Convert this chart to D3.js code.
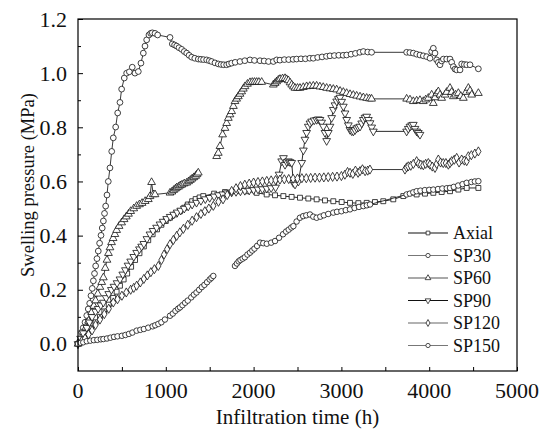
<!DOCTYPE html>
<html>
<head>
<meta charset="utf-8">
<script src="https://d3js.org/d3.v7.min.js"></script>
<style>
  body { margin: 0; background: #fff; }
  svg text { font-family: "Liberation Serif", "Times New Roman", Times, "DejaVu Serif", serif; }
</style>
</head>
<body>
<div class="canvas"></div>
<script>
const width = 539, height = 432
const serif = '"Liberation Serif", "Times New Roman", Times, "DejaVu Serif", serif'

// data: [infiltration time (h), swelling pressure (MPa)], null = break in the record
const axial = [[0,0],[50,0.02],[100,0.04],[150,0.06],[200,0.08],[250,0.1],[300,0.12],[350,0.145],[400,0.17],[440,0.193],[478,0.215],[520,0.238],[560,0.26],[605,0.285],[650,0.31],[700,0.335],[750,0.36],[800,0.383],[850,0.405],[900,0.423],[950,0.44],[1000,0.454],[1048,0.466],[1105,0.478],[1162,0.49],[1210,0.503],[1250,0.515],[1300,0.527],[1340,0.535],[1385,0.541],[1427,0.546],[1550,0.555],[1674,0.561],[1800,0.564],[1921,0.564],[2035,0.558],[2149,0.552],[2244,0.549],[2339,0.546],[2433,0.543],[2528,0.54],[2623,0.537],[2718,0.534],[2813,0.53],[2908,0.527],[3003,0.524],[3098,0.521],[3193,0.52],[3288,0.521],[3382,0.524],[3477,0.527],[3591,0.534],[3705,0.546],[3857,0.552],[3952,0.555],[4047,0.558],[4142,0.561],[4237,0.564],[4332,0.57],[4427,0.576],[4560,0.576]]

const sp30 = [[0,0],[20,0.01],[42,0.043],[60,0.06],[80,0.08],[100,0.105],[117,0.129],[133,0.15],[148,0.178],[162,0.205],[175,0.233],[188,0.26],[201,0.288],[216,0.315],[231,0.343],[246,0.372],[262,0.401],[276,0.428],[289,0.454],[302,0.482],[315,0.509],[330,0.55],[345,0.6],[364,0.65],[384,0.711],[402,0.761],[429,0.801],[452,0.853],[478,0.892],[497,0.941],[527,0.982],[554,1.0],[585,1.005],[618,1.022],[649,1.0],[687,1.006],[717,1.037],[744,1.074],[763,1.1],[782,1.123],[808,1.141],[828,1.147],[846,1.149],[877,1.147],[907,1.141],[1048,1.132],[1074,1.108],[1100,1.104],[1124,1.1],[1150,1.094],[1181,1.088],[1210,1.08],[1238,1.074],[1265,1.066],[1295,1.059],[1330,1.055],[1370,1.052],[1400,1.051],[1430,1.05],[1465,1.049],[1495,1.046],[1522,1.043],[1560,1.038],[1598,1.034],[1630,1.032],[1660,1.031],[1693,1.031],[1720,1.034],[1750,1.037],[1790,1.04],[1845,1.043],[1900,1.046],[1959,1.049],[2010,1.047],[2073,1.046],[2120,1.045],[2170,1.043],[2225,1.043],[2263,1.049],[2300,1.048],[2350,1.05],[2400,1.05],[2450,1.051],[2490,1.052],[2540,1.053],[2590,1.053],[2640,1.055],[2680,1.055],[2730,1.058],[2780,1.06],[2830,1.062],[2870,1.064],[2920,1.065],[2970,1.066],[3020,1.066],[3060,1.067],[3110,1.07],[3160,1.073],[3210,1.077],[3250,1.08],[3300,1.078],[3344,1.077],[3743,1.077],[3780,1.076],[3819,1.074],[3857,1.07],[3895,1.067],[3933,1.064],[3971,1.061],[4009,1.055],[4028,1.08],[4047,1.092],[4066,1.074],[4085,1.049],[4104,1.04],[4123,1.031],[4142,1.045],[4161,1.052],[4199,1.052],[4237,1.052],[4256,1.04],[4275,1.024],[4294,1.015],[4313,1.012],[4351,1.012],[4370,1.034],[4400,1.032],[4427,1.031],[4465,1.031],[4560,1.016]]

const sp60 = [[0,0],[30,0.015],[60,0.035],[90,0.06],[120,0.085],[156,0.117],[180,0.14],[200,0.16],[225,0.185],[250,0.21],[270,0.228],[289,0.245],[310,0.28],[330,0.31],[347,0.335],[364,0.356],[382,0.375],[400,0.39],[420,0.405],[440,0.42],[468,0.435],[497,0.448],[525,0.46],[550,0.47],[575,0.48],[600,0.49],[635,0.5],[668,0.509],[700,0.515],[730,0.52],[765,0.527],[801,0.534],[820,0.545],[838,0.597],[857,0.552],[877,0.552],[1048,0.558],[1070,0.562],[1090,0.568],[1110,0.573],[1124,0.577],[1145,0.58],[1165,0.585],[1185,0.588],[1210,0.592],[1238,0.595],[1260,0.6],[1280,0.605],[1300,0.61],[1320,0.615],[1340,0.62],[1355,0.626],[1370,0.632],null,[1579,0.693],[1598,0.705],[1617,0.73],[1647,0.773],[1674,0.797],[1693,0.815],[1712,0.834],[1731,0.847],[1750,0.859],[1770,0.878],[1788,0.896],[1807,0.905],[1826,0.914],[1845,0.923],[1864,0.932],[1883,0.942],[1902,0.951],[1930,0.96],[1959,0.966],[1985,0.967],[2010,0.967],[2035,0.967],[2060,0.967],[2092,0.967],[2225,0.957],[2245,0.963],[2263,0.969],[2282,0.975],[2301,0.978],[2330,0.98],[2358,0.981],[2377,0.977],[2396,0.973],[2415,0.965],[2434,0.957],[2453,0.95],[2472,0.945],[2500,0.945],[2528,0.945],[2566,0.948],[2604,0.951],[2640,0.952],[2680,0.953],[2718,0.953],[2755,0.95],[2793,0.948],[2832,0.945],[2870,0.943],[2908,0.941],[2946,0.939],[2985,0.934],[3022,0.93],[3060,0.926],[3098,0.922],[3136,0.919],[3174,0.916],[3212,0.913],[3250,0.91],[3288,0.908],[3320,0.906],[3344,0.905],[3743,0.905],[3781,0.902],[3819,0.896],[3857,0.898],[3895,0.9],[3933,0.896],[3960,0.902],[3990,0.908],[4028,0.92],[4047,0.889],[4066,0.91],[4085,0.925],[4104,0.932],[4123,0.92],[4142,0.908],[4180,0.92],[4199,0.93],[4237,0.945],[4256,0.93],[4275,0.914],[4300,0.92],[4332,0.926],[4360,0.915],[4389,0.908],[4420,0.93],[4446,0.945],[4465,0.935],[4484,0.92],[4560,0.926]]

const sp90 = [[0,0],[30,0.02],[60,0.04],[100,0.06],[130,0.08],[160,0.1],[200,0.12],[230,0.13],[260,0.143],[289,0.153],[320,0.17],[350,0.185],[380,0.2],[410,0.212],[445,0.225],[478,0.239],[510,0.257],[540,0.273],[570,0.29],[600,0.305],[635,0.322],[668,0.337],[700,0.35],[725,0.36],[750,0.37],[785,0.388],[820,0.405],[855,0.418],[895,0.43],[934,0.442],[970,0.452],[1010,0.462],[1050,0.47],[1090,0.478],[1130,0.486],[1170,0.493],[1210,0.5],[1255,0.508],[1300,0.515],[1350,0.522],[1400,0.529],[1450,0.535],[1500,0.54],[1550,0.545],[1600,0.55],[1650,0.553],[1700,0.557],[1750,0.56],[1800,0.562],[1850,0.564],[1900,0.566],[1950,0.567],[2000,0.569],[2050,0.571],[2100,0.572],[2150,0.574],[2200,0.576],[2250,0.578],[2290,0.626],[2320,0.675],[2340,0.687],[2358,0.662],[2378,0.672],[2396,0.675],[2415,0.672],[2434,0.669],[2453,0.595],[2472,0.589],[2510,0.6],[2548,0.669],[2567,0.715],[2585,0.755],[2604,0.78],[2623,0.803],[2642,0.815],[2661,0.822],[2690,0.826],[2718,0.828],[2737,0.83],[2756,0.828],[2775,0.818],[2794,0.803],[2813,0.78],[2832,0.75],[2851,0.78],[2870,0.803],[2889,0.835],[2908,0.865],[2927,0.882],[2946,0.896],[2965,0.905],[2984,0.91],[3003,0.895],[3022,0.877],[3041,0.852],[3060,0.828],[3079,0.808],[3098,0.791],[3117,0.786],[3136,0.785],[3155,0.79],[3174,0.797],[3193,0.8],[3212,0.803],[3231,0.815],[3250,0.828],[3269,0.836],[3288,0.84],[3307,0.828],[3326,0.816],[3345,0.8],[3364,0.785],[3743,0.785],[3762,0.795],[3781,0.803],[3800,0.808],[3819,0.81],[3838,0.795],[3857,0.785],[3876,0.78],[3895,0.773]]

const sp120 = [[0,0],[40,0.01],[80,0.02],[120,0.035],[160,0.05],[200,0.07],[250,0.09],[300,0.11],[350,0.13],[402,0.153],[450,0.165],[500,0.178],[550,0.19],[600,0.2],[635,0.207],[668,0.215],[710,0.227],[750,0.24],[790,0.253],[830,0.265],[870,0.276],[915,0.288],[950,0.31],[980,0.33],[1015,0.35],[1048,0.368],[1086,0.384],[1124,0.399],[1160,0.412],[1200,0.425],[1250,0.44],[1300,0.455],[1350,0.468],[1400,0.48],[1445,0.49],[1490,0.5],[1541,0.51],[1600,0.525],[1652,0.534],[1700,0.55],[1750,0.565],[1800,0.575],[1850,0.583],[1900,0.588],[1950,0.592],[2000,0.596],[2050,0.598],[2100,0.6],[2150,0.602],[2200,0.604],[2250,0.605],[2300,0.607],[2350,0.608],[2400,0.609],[2450,0.61],[2500,0.611],[2550,0.612],[2600,0.612],[2650,0.613],[2700,0.614],[2750,0.614],[2800,0.615],[2850,0.616],[2900,0.617],[2950,0.618],[3000,0.62],[3040,0.625],[3070,0.635],[3098,0.632],[3130,0.628],[3160,0.64],[3190,0.632],[3212,0.638],[3240,0.645],[3270,0.638],[3300,0.64],[3325,0.644],[3724,0.644],[3743,0.652],[3762,0.656],[3790,0.658],[3820,0.665],[3857,0.675],[3880,0.666],[3905,0.662],[3933,0.66],[3960,0.665],[3990,0.668],[4009,0.662],[4035,0.655],[4066,0.65],[4085,0.665],[4104,0.681],[4130,0.67],[4160,0.668],[4190,0.668],[4218,0.662],[4237,0.668],[4256,0.675],[4285,0.68],[4313,0.687],[4340,0.67],[4370,0.681],[4400,0.677],[4427,0.675],[4446,0.693],[4480,0.697],[4520,0.703],[4560,0.711]]

const sp150 = [[0,0],[30,0.004],[60,0.006],[100,0.01],[140,0.012],[180,0.014],[220,0.015],[260,0.017],[289,0.018],[330,0.02],[370,0.023],[410,0.026],[450,0.028],[500,0.03],[540,0.033],[580,0.037],[620,0.042],[668,0.049],[710,0.052],[750,0.055],[800,0.06],[850,0.065],[880,0.069],[915,0.074],[950,0.08],[990,0.09],[1048,0.104],[1080,0.112],[1110,0.122],[1140,0.13],[1162,0.135],[1190,0.143],[1220,0.152],[1250,0.16],[1290,0.172],[1320,0.182],[1350,0.19],[1380,0.2],[1410,0.21],[1440,0.218],[1470,0.228],[1500,0.238],[1520,0.244],[1541,0.251],null,[1788,0.288],[1810,0.297],[1830,0.305],[1850,0.31],[1875,0.315],[1900,0.32],[1930,0.33],[1959,0.337],[1985,0.345],[2010,0.352],[2040,0.362],[2073,0.374],[2110,0.372],[2150,0.37],[2200,0.374],[2244,0.38],[2290,0.392],[2335,0.405],[2370,0.415],[2400,0.422],[2430,0.43],[2453,0.435],[2490,0.452],[2528,0.466],[2565,0.472],[2600,0.475],[2642,0.478],[2680,0.47],[2718,0.466],[2760,0.47],[2800,0.475],[2850,0.48],[2908,0.485],[2950,0.488],[3000,0.49],[3050,0.494],[3098,0.497],[3150,0.502],[3200,0.506],[3250,0.509],[3290,0.512],[3326,0.515],[3743,0.552],[3780,0.555],[3819,0.56],[3857,0.564],[3900,0.566],[3950,0.568],[4000,0.569],[4047,0.57],[4100,0.572],[4150,0.574],[4200,0.575],[4237,0.576],[4280,0.58],[4330,0.585],[4380,0.59],[4427,0.595],[4480,0.598],[4520,0.6],[4560,0.601]]

const seriesNames = ['Axial', 'SP30', 'SP60', 'SP90', 'SP120', 'SP150']
const seriesData = [axial, sp30, sp60, sp90, sp120, sp150]
const xTicks = [0, 1000, 2000, 3000, 4000, 5000]
const yTicks = [0.0, 0.2, 0.4, 0.6, 0.8, 1.0, 1.2]

const markers = {
    Axial: { type: d3.symbolSquare, size: 24, rot: 0, line: '#111', leg: '#111' },
    SP30: { type: d3.symbolCircle, size: 26, rot: 0, line: '#222', leg: '#777' },
    SP60: { type: d3.symbolTriangle, size: 26, rot: 0, line: '#222', leg: '#555' },
    SP90: { type: d3.symbolTriangle, size: 26, rot: 180, line: '#111', leg: '#111' },
    SP120: { type: d3.symbolDiamond, size: 24, rot: 0, line: '#222', leg: '#666' },
    SP150: { type: d3.symbolCircle, size: 24, rot: 0, line: '#222', leg: '#777' }
}

let [mt, mr, mb, ml] = [19, 22, 60, 78]
const graphWidth = width - ml - mr
const graphHeight = height - mt - mb - 1

const svg = d3.select('.canvas').append('svg').attr('width', width).attr('height', height)
const graph = svg.append('g').attr('transform', `translate(${ml}, ${mt})`)

const x = d3.scaleLinear().domain([0, 5000]).range([0, graphWidth])
const y = d3.scaleLinear().domain([-0.1, 1.2]).range([graphHeight, 0])

// tick marks, pointing inward
const xAxisG = graph.append('g').attr('transform', `translate(0, ${graphHeight})`)
xAxisG.call(d3.axisBottom(x).tickValues(d3.range(0, 5001, 500)).tickSize(-4).tickFormat(''))

const yAxisG = graph.append('g')
yAxisG.call(d3.axisLeft(y).tickValues(d3.range(0, 1.21, 0.1)).tickSize(-3).tickFormat(''))
yAxisG.call(g => g.selectAll('.tick line').filter((d, i) => i % 2 === 0).attr('x2', 5))

graph.selectAll('.domain').remove()
graph.selectAll('.tick line').attr('stroke', '#000').attr('stroke-width', 1)

// tick labels
graph.append('g').selectAll('text')
    .data(xTicks)
    .enter()
    .append('text')
    .attr('x', d => x(d))
    .attr('y', graphHeight + 27)
    .attr('text-anchor', 'middle')
    .style('font-size', '22px')
    .style('font-family', serif)
    .attr('fill', '#111')
    .text(d => d3.format('d')(d))

graph.append('g').selectAll('text')
    .data(yTicks)
    .enter()
    .append('text')
    .attr('x', -11)
    .attr('y', d => y(d) + 7.5)
    .attr('text-anchor', 'end')
    .style('font-size', '22px')
    .style('font-family', serif)
    .attr('fill', '#111')
    .text(d => d3.format('.1f')(d))

// lines and markers
const line = d3.line()
    .defined(d => d != null)
    .x(d => x(d[0]))
    .y(d => y(d[1]))

seriesData.forEach((data, i) => {
    const name = seriesNames[i]
    const m = markers[name]
    const g = graph.append('g')
    g.append('path')
        .datum(data)
        .attr('d', line)
        .attr('fill', 'none')
        .attr('stroke', m.line)
        .attr('stroke-width', 0.9)
    g.selectAll('path.pt')
        .data(data.filter(d => d != null))
        .enter()
        .append('path')
        .attr('class', 'pt')
        .attr('d', d3.symbol().type(m.type).size(m.size))
        .attr('transform', d => `translate(${x(d[0])}, ${y(d[1])}) rotate(${m.rot})`)
        .attr('fill', '#fff')
        .attr('stroke', '#111')
        .attr('stroke-width', 0.8)
})

// frame
graph.append('rect')
    .attr('width', graphWidth)
    .attr('height', graphHeight)
    .attr('fill', 'none')
    .attr('stroke', '#000')
    .attr('stroke-width', 1.2)

// legend
const legend = graph.append('g').attr('transform', `translate(${408 - ml}, ${233 - mt})`)
seriesNames.forEach((name, i) => {
    const m = markers[name]
    const row = legend.append('g').attr('transform', `translate(0, ${i * 22.5})`)
    row.append('line').attr('x1', 0).attr('x2', 40).attr('stroke', m.leg).attr('stroke-width', 1.2)
    row.append('path')
        .attr('d', d3.symbol().type(m.type).size(14))
        .attr('transform', `translate(20, 0) rotate(${m.rot})`)
        .attr('fill', '#fff')
        .attr('stroke', '#222')
        .attr('stroke-width', 0.8)
    row.append('text')
        .attr('x', 45)
        .attr('y', 6)
        .text(name)
        .style('font-size', '18px')
        .style('font-family', serif)
        .attr('fill', '#111')
})

// axis titles
svg.append('text')
    .attr('x', ml + graphWidth / 2)
    .attr('y', 424)
    .attr('text-anchor', 'middle')
    .style('font-size', '21px')
    .style('font-family', serif)
    .attr('fill', '#111')
    .text('Infiltration time (h)')

svg.append('text')
    .attr('transform', `translate(34, 185) rotate(-90)`)
    .attr('text-anchor', 'middle')
    .style('font-size', '18.5px')
    .style('font-family', serif)
    .attr('fill', '#111')
    .text('Swelling pressure (MPa)')
</script>
</body>
</html>
